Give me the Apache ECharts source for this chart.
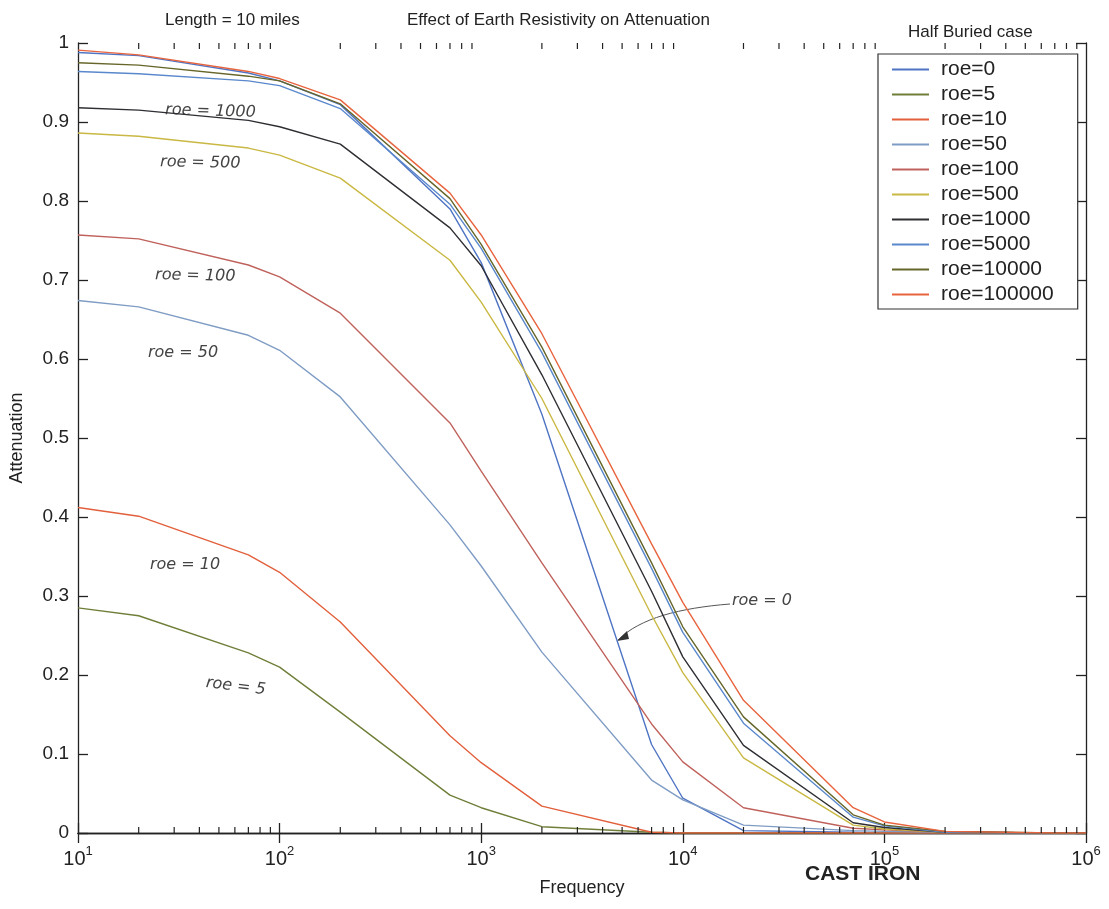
<!DOCTYPE html>
<html>
<head>
<meta charset="utf-8">
<script src="https://cdn.jsdelivr.net/npm/echarts@6/dist/echarts.min.js"></script>
<style>
html,body{margin:0;padding:0;background:#fff;}
#chart{width:1109px;height:909px;}
</style>
</head>
<body>
<div id="chart"></div>
<script>
// ---- data ----
const freq = [10, 20, 70, 100, 200, 700, 1000, 2000, 7000, 10000, 20000, 70000, 100000, 200000, 700000, 1000000];
const roe0      = [0.988, 0.984, 0.962, 0.952, 0.922, 0.790, 0.722, 0.530, 0.112, 0.044, 0.003, 0.001, 0, 0, 0, 0];
const roe5      = [0.285, 0.275, 0.228, 0.210, 0.153, 0.048, 0.032, 0.008, 0.001, 0, 0, 0, 0, 0, 0, 0];
const roe10     = [0.412, 0.401, 0.352, 0.330, 0.267, 0.123, 0.089, 0.034, 0.001, 0, 0, 0, 0, 0, 0, 0];
const roe50     = [0.674, 0.666, 0.630, 0.611, 0.552, 0.390, 0.338, 0.229, 0.067, 0.042, 0.010, 0.003, 0.002, 0.001, 0, 0];
const roe100    = [0.757, 0.752, 0.719, 0.704, 0.658, 0.519, 0.458, 0.342, 0.138, 0.090, 0.032, 0.006, 0.004, 0.001, 0, 0];
const roe500    = [0.886, 0.882, 0.867, 0.858, 0.829, 0.725, 0.672, 0.550, 0.276, 0.203, 0.095, 0.010, 0.005, 0.001, 0, 0];
const roe1000   = [0.918, 0.915, 0.902, 0.894, 0.872, 0.766, 0.718, 0.580, 0.306, 0.223, 0.111, 0.013, 0.007, 0.001, 0, 0];
const roe5000   = [0.964, 0.961, 0.952, 0.946, 0.917, 0.796, 0.740, 0.608, 0.335, 0.254, 0.139, 0.020, 0.009, 0.001, 0, 0];
const roe10000  = [0.975, 0.972, 0.958, 0.952, 0.923, 0.803, 0.745, 0.615, 0.342, 0.261, 0.147, 0.023, 0.010, 0.002, 0, 0];
const roe100000 = [0.991, 0.985, 0.964, 0.955, 0.928, 0.810, 0.757, 0.632, 0.366, 0.292, 0.168, 0.032, 0.014, 0.002, 0, 0];

const seriesNames = ['roe=0','roe=5','roe=10','roe=50','roe=100','roe=500','roe=1000','roe=5000','roe=10000','roe=100000'];
const seriesValues = [roe0, roe5, roe10, roe50, roe100, roe500, roe1000, roe5000, roe10000, roe100000];
const seriesColors = ['#4f74c4','#6f7f3a','#e2603c','#7f9cc4','#c0625c','#c9b843','#2e2e33','#5a88cc','#66662a','#e8643e'];

const yTicks = [0, 0.1, 0.2, 0.3, 0.4, 0.5, 0.6, 0.7, 0.8, 0.9, 1];
const annotations = [
  {text: 'roe = 1000', x: 165, y: 102, rot: -0.03},
  {text: 'roe = 500', x: 160, y: 154, rot: -0.02},
  {text: 'roe = 100', x: 155, y: 267, rot: -0.02},
  {text: 'roe = 50', x: 148, y: 345, rot: 0},
  {text: 'roe = 10', x: 150, y: 557, rot: 0},
  {text: 'roe = 5', x: 205, y: 675, rot: -0.12},
  {text: 'roe = 0', x: 732, y: 593, rot: 0}
];

// minor tick positions for log axis (axis decoration)
const minorTicks = [];
for (let d = 1; d < 6; d++) for (let m = 2; m <= 9; m++) minorTicks.push([m * Math.pow(10, d)]);

const chart = echarts.init(document.getElementById('chart'));
const FONT = 'Liberation Sans, Arial, sans-serif';

const lineSeries = seriesNames.map((n, i) => ({
  name: n,
  type: 'line',
  data: freq.map((f, j) => [f, seriesValues[i][j]]),
  symbol: 'none',
  lineStyle: {color: seriesColors[i], width: 1.4},
  itemStyle: {color: seriesColors[i]},
  z: 3 + i,
  silent: true,
  animation: false
}));

const tickSeries = {
  type: 'custom',
  data: minorTicks,
  silent: true,
  animation: false,
  clip: false,
  z: 20,
  renderItem: function (params, api) {
    const x = api.value(0);
    const pb = api.coord([x, 0]);
    const pt = api.coord([x, 1]);
    return {
      type: 'group',
      children: [
        {type: 'line', shape: {x1: pb[0], y1: pb[1], x2: pb[0], y2: pb[1] - 6}, style: {stroke: '#222', lineWidth: 1.2}},
        {type: 'line', shape: {x1: pt[0], y1: pt[1], x2: pt[0], y2: pt[1] + 6}, style: {stroke: '#222', lineWidth: 1.2}}
      ]
    };
  }
};

const graphics = annotations.map(a => ({
  type: 'text',
  left: a.x, top: a.y,
  rotation: a.rot,
  style: {text: a.text, font: 'italic 16px DejaVu Sans', fill: '#444'},
  silent: true
}));
graphics.push({
  type: 'bezierCurve',
  shape: {x1: 730, y1: 604, x2: 618, y2: 640, cpx1: 680, cpy1: 608, cpx2: 640, cpy2: 618},
  style: {stroke: '#555', lineWidth: 1, fill: null},
  silent: true
});
graphics.push({
  type: 'polygon',
  shape: {points: [[617, 641], [627, 631], [629, 639]]},
  style: {fill: '#333'},
  silent: true
});
graphics.push({
  type: 'text', left: 805, top: 864,
  style: {text: 'CAST IRON', font: 'bold 21px Liberation Sans', fill: '#222'}
});

const supMap = {1:'1',2:'2',3:'3',4:'4',5:'5',6:'6'};
const xAxisBase = {
  type: 'log', logBase: 10, min: 10, max: 1000000,
  axisLine: {show: true, lineStyle: {color: '#222', width: 1.3}},
  axisTick: {show: true, inside: true, length: 10, lineStyle: {color: '#222', width: 1.3}},
  splitLine: {show: false},
  minorTick: {show: false}
};

const option = {
  backgroundColor: '#fff',
  animation: false,
  title: [
    {text: 'Length = 10 miles', left: 160, top: 7, textStyle: {fontSize: 17, fontWeight: 'normal', fontFamily: FONT, color: '#222'}},
    {text: 'Effect of Earth Resistivity on Attenuation', left: 402, top: 7, textStyle: {fontSize: 17, fontWeight: 'normal', fontFamily: FONT, color: '#222'}},
    {text: 'Half Buried case', left: 903, top: 19, textStyle: {fontSize: 17, fontWeight: 'normal', fontFamily: FONT, color: '#222'}}
  ],
  grid: {left: 77, right: 23, top: 43, bottom: 76, containLabel: false},
  legend: {
    data: seriesNames,
    orient: 'vertical',
    left: 878, top: 54,
    icon: 'rect',
    padding: [5, 24, 4, 14],
    itemWidth: 37, itemHeight: 2, itemGap: 4,
    backgroundColor: '#fff',
    borderColor: '#333', borderWidth: 1.2, borderRadius: 0,
    textStyle: {fontSize: 21, fontFamily: FONT, color: '#222', lineHeight: 21, padding: [0, 0, 0, 7]}
  },
  xAxis: [
    Object.assign({}, xAxisBase, {
      position: 'bottom',
      name: 'Frequency', nameLocation: 'middle', nameGap: 46,
      nameTextStyle: {fontSize: 18, fontFamily: FONT, color: '#222'},
      axisLabel: {
        margin: 12,
        formatter: function (v) {
          const e = Math.round(Math.log10(v));
          return '{b|10}{s|' + supMap[e] + '}';
        },
        rich: {
          b: {fontSize: 20, fontFamily: FONT, color: '#222'},
          s: {fontSize: 13, fontFamily: FONT, color: '#222', padding: [0, 0, 16, 0]}
        }
      }
    }),
    Object.assign({}, xAxisBase, {position: 'top', axisLabel: {show: false}})
  ],
  yAxis: [
    {
      type: 'value', min: 0, max: 1, interval: 0.1, position: 'left',
      name: 'Attenuation', nameLocation: 'middle', nameGap: 52, nameRotate: 90,
      nameTextStyle: {fontSize: 18, fontFamily: FONT, color: '#222'},
      axisLine: {show: true, lineStyle: {color: '#222', width: 1.3}},
      axisTick: {show: true, inside: true, length: 10, lineStyle: {color: '#222', width: 1.3}},
      splitLine: {show: false},
      axisLabel: {
        margin: 9, fontSize: 19, fontFamily: FONT, color: '#222',
        formatter: function (v) {
          const t = yTicks.find(k => Math.abs(k - v) < 1e-9);
          if (t === undefined) return '';
          return (t === 0 || t === 1) ? String(t) : t.toFixed(1);
        }
      }
    },
    {
      type: 'value', min: 0, max: 1, interval: 0.1, position: 'right',
      axisLine: {show: true, lineStyle: {color: '#222', width: 1.3}},
      axisTick: {show: true, inside: true, length: 10, lineStyle: {color: '#222', width: 1.3}},
      splitLine: {show: false},
      axisLabel: {show: false}
    }
  ],
  graphic: graphics,
  series: lineSeries.concat([tickSeries])
};
chart.setOption(option);
</script>
</body>
</html>
